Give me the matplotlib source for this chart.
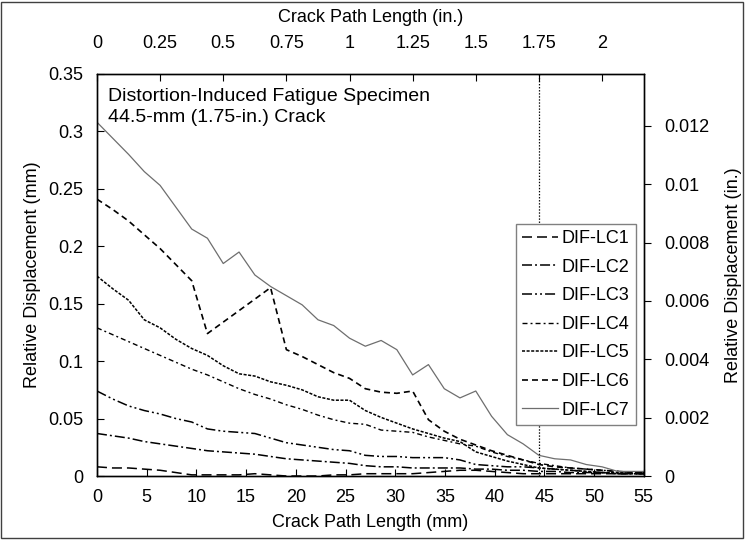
import matplotlib
matplotlib.use("Agg")
import matplotlib.pyplot as plt
from matplotlib.patches import Rectangle

plt.rcParams['font.family'] = ['Liberation Sans', 'DejaVu Sans']
plt.rcParams['lines.scale_dashes'] = False

# crack path positions (mm), one reading every 1/16 in.
crack_mm = [0.00, 1.59, 3.18, 4.76, 6.35, 7.94, 9.53, 11.11, 12.70, 14.29,
            15.88, 17.46, 19.05, 20.64, 22.23, 23.81, 25.40, 26.99, 28.58, 30.16,
            31.75, 33.34, 34.93, 36.51, 38.10, 39.69, 41.28, 42.86, 44.45, 46.04,
            47.63, 49.21, 50.80, 52.39, 53.98, 55.56]

# relative displacement (mm) per load case
lc1 = [0.008, 0.007, 0.007, 0.006, 0.005, 0.003, 0.001, 0.001, 0.001, 0.001,
       0.002, 0.001, 0.000, 0.000, 0.000, 0.001, 0.001, 0.002, 0.002, 0.002,
       0.002, 0.003, 0.004, 0.005, 0.005, 0.004, 0.003, 0.002, 0.002, 0.002,
       0.002, 0.002, 0.002, 0.002, 0.002, 0.002]
lc2 = [0.037, 0.035, 0.033, 0.030, 0.028, 0.026, 0.024, 0.022, 0.021, 0.020,
       0.019, 0.017, 0.015, 0.014, 0.013, 0.012, 0.011, 0.009, 0.008, 0.008,
       0.007, 0.007, 0.007, 0.007, 0.006, 0.006, 0.005, 0.005, 0.004, 0.004,
       0.003, 0.003, 0.003, 0.002, 0.002, 0.002]
lc3 = [0.074, 0.067, 0.061, 0.057, 0.054, 0.050, 0.047, 0.041, 0.039, 0.038,
       0.037, 0.033, 0.029, 0.027, 0.025, 0.023, 0.022, 0.018, 0.017, 0.017,
       0.016, 0.016, 0.016, 0.014, 0.010, 0.009, 0.008, 0.008, 0.007, 0.006,
       0.005, 0.004, 0.003, 0.002, 0.002, 0.002]
lc4 = [0.129, 0.123, 0.117, 0.111, 0.105, 0.099, 0.093, 0.088, 0.082, 0.076,
       0.071, 0.067, 0.062, 0.058, 0.053, 0.049, 0.046, 0.045, 0.040, 0.039,
       0.038, 0.034, 0.031, 0.028, 0.026, 0.021, 0.017, 0.014, 0.011, 0.009,
       0.007, 0.006, 0.005, 0.004, 0.003, 0.003]
lc5 = [0.174, 0.163, 0.153, 0.136, 0.129, 0.119, 0.111, 0.105, 0.096, 0.089,
       0.087, 0.082, 0.079, 0.075, 0.069, 0.066, 0.066, 0.057, 0.051, 0.046,
       0.041, 0.037, 0.033, 0.030, 0.021, 0.017, 0.013, 0.010, 0.007, 0.006,
       0.005, 0.004, 0.003, 0.003, 0.002, 0.002]
lc6 = [0.241, 0.232, 0.222, 0.210, 0.198, 0.184, 0.170, 0.124, 0.134, 0.144,
       0.154, 0.164, 0.110, 0.104, 0.097, 0.090, 0.085, 0.076, 0.073, 0.072,
       0.074, 0.049, 0.039, 0.032, 0.027, 0.022, 0.018, 0.014, 0.010, 0.008,
       0.007, 0.006, 0.005, 0.004, 0.003, 0.003]
lc7 = [0.308, 0.294, 0.280, 0.265, 0.253, 0.234, 0.215, 0.207, 0.185, 0.195,
       0.175, 0.165, 0.157, 0.149, 0.136, 0.131, 0.120, 0.113, 0.118, 0.110,
       0.088, 0.097, 0.076, 0.068, 0.074, 0.052, 0.036, 0.028, 0.018, 0.015,
       0.014, 0.010, 0.008, 0.004, 0.004, 0.004]

series = [lc1, lc2, lc3, lc4, lc5, lc6, lc7]
labels = ['DIF-LC1', 'DIF-LC2', 'DIF-LC3', 'DIF-LC4', 'DIF-LC5', 'DIF-LC6', 'DIF-LC7']

mm_ticks = [0, 5, 10, 15, 20, 25, 30, 35, 40, 45, 50, 55]
y_ticks = [0, 0.05, 0.1, 0.15, 0.2, 0.25, 0.3, 0.35]
y_labels = ['0', '0.05', '0.1', '0.15', '0.2', '0.25', '0.3', '0.35']
in_ticks = [0, 0.25, 0.5, 0.75, 1, 1.25, 1.5, 1.75, 2]
in_labels = ['0', '0.25', '0.5', '0.75', '1', '1.25', '1.5', '1.75', '2']
yin_ticks = [0, 0.002, 0.004, 0.006, 0.008, 0.01, 0.012]
yin_labels = ['0', '0.002', '0.004', '0.006', '0.008', '0.01', '0.012']
crack_tip_mm = 44.5

styles = [
    dict(color='black', lw=1.1, dashes=(7.2, 3.6)),
    dict(color='black', lw=1.1, dashes=(7.2, 2.2, 1.4, 2.2)),
    dict(color='black', lw=1.1, dashes=(7.2, 2.2, 1.4, 2.2, 1.4, 2.2)),
    dict(color='black', lw=1.0, dashes=(3.6, 2.2, 1.4, 2.2)),
    dict(color='black', lw=1.1, dashes=(2.2, 1.1)),
    dict(color='black', lw=1.2, dashes=(4.3, 2.9)),
    dict(color='#6e6e6e', lw=0.9, ls='-'),
]

fs = 13
fig = plt.figure(figsize=(7.46, 5.40), dpi=100)
ax = fig.add_axes([0.130, 0.1185, 0.733, 0.7445])

for vals, lab, st in zip(series, labels, styles):
    ax.plot(crack_mm, vals, label=lab, **st)

ax.axvline(crack_tip_mm, color='black', lw=0.9, ls=(0, (1, 1.2)))

ax.set_xlim(0, 55)
ax.set_ylim(0, 0.35)
ax.set_xticks(mm_ticks)
ax.set_yticks(y_ticks)
ax.set_yticklabels(y_labels)
ax.tick_params(axis='both', direction='in', length=5, labelsize=fs, pad=9)
ax.tick_params(axis='y', pad=10)
ax.tick_params(right=False)
ax.set_xlabel('Crack Path Length (mm)', fontsize=fs, labelpad=6)
ax.set_ylabel('Relative Displacement (mm)', fontsize=fs, labelpad=5)

ax.text(0.020, 0.965, 'Distortion-Induced Fatigue Specimen\n44.5-mm (1.75-in.) Crack',
        transform=ax.transAxes, fontsize=14, va='top', ha='left', linespacing=1.3)

ax.legend(loc='upper left', bbox_to_anchor=(0.766, 0.627), borderaxespad=0,
          fontsize=fs, frameon=True, fancybox=False, edgecolor='#808080',
          framealpha=1, handlelength=2.0, handletextpad=0.2, labelspacing=0.64,
          borderpad=0.35)

axr = ax.twinx()
axr.set_ylim(0, 0.35 / 25.4)
axr.set_yticks(yin_ticks)
axr.set_yticklabels(yin_labels)
axr.tick_params(axis='y', direction='out', length=5, labelsize=fs, pad=10)
axr.set_ylabel('Relative Displacement (in.)', fontsize=fs, labelpad=11)

axt = ax.twiny()
axt.set_xlim(0, 55 / 25.4)
axt.set_xticks(in_ticks)
axt.set_xticklabels(in_labels)
axt.tick_params(axis='x', direction='in', length=5, labelsize=fs, pad=16)
axt.set_xlabel('Crack Path Length (in.)', fontsize=fs, labelpad=9)

for a in (ax, axr, axt):
    for sp in a.spines.values():
        sp.set_linewidth(0.9)

fig.patches.append(Rectangle((0.002, 0.004), 0.994, 0.992, transform=fig.transFigure,
                             fill=False, edgecolor='#404040', lw=1.0))

fig.savefig('out.png', dpi=100)
